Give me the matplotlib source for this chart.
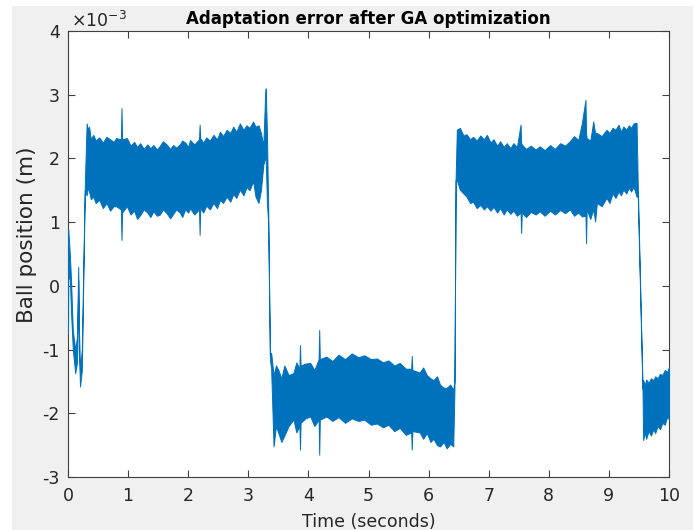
import matplotlib
matplotlib.use("Agg")
import matplotlib.pyplot as plt
from matplotlib.patches import Rectangle
import numpy as np

plt.rcParams['font.family'] = ['DejaVu Sans']
plt.rcParams['axes.unicode_minus'] = False

# Envelope of the (dense, noisy) error signal, in units of 1e-3 m
time_s = [0.00, 0.005, 0.03, 0.05, 0.08, 0.12, 0.15, 0.17, 0.18, 0.20, 0.23, 0.26, 0.28,
          0.31, 0.33, 0.35, 0.38, 0.42, 0.46, 0.52, 0.58, 0.64, 0.70, 0.76, 0.80, 0.88, 0.89, 0.90,
          0.98, 1.04, 1.10, 1.15, 1.20, 1.26, 1.32, 1.37, 1.42, 1.48, 1.53, 1.58, 1.64, 1.70,
          1.75, 1.80, 1.86, 1.90, 1.95, 2.00, 2.03, 2.10, 2.18, 2.19, 2.20, 2.25, 2.30, 2.36,
          2.42, 2.48, 2.53, 2.58, 2.64, 2.70, 2.75, 2.80, 2.86, 2.92, 2.97, 3.02, 3.08, 3.12,
          3.17, 3.21, 3.25, 3.28, 3.29, 3.31, 3.33, 3.36,
          3.38, 3.42, 3.46, 3.50, 3.55, 3.60, 3.67, 3.75, 3.80, 3.85, 3.86, 3.87, 3.95, 4.03,
          4.10, 4.17, 4.18, 4.19, 4.30, 4.40, 4.50, 4.61, 4.72, 4.83, 4.93, 5.04, 5.14, 5.24,
          5.33, 5.43, 5.52, 5.62, 5.71, 5.72, 5.73, 5.85, 5.91, 5.97, 6.03, 6.08, 6.14, 6.19,
          6.25, 6.30, 6.36, 6.41, 6.43, 6.45,
          6.47, 6.52, 6.58, 6.63, 6.69, 6.74, 6.80, 6.86, 6.92, 6.97, 7.03, 7.08, 7.14, 7.19,
          7.25, 7.30, 7.36, 7.41, 7.47, 7.53, 7.54, 7.55, 7.62, 7.70, 7.78, 7.85, 7.93, 8.02,
          8.10, 8.19, 8.27, 8.35, 8.42, 8.49, 8.55, 8.61, 8.62, 8.63, 8.69, 8.74, 8.77, 8.80,
          8.88, 8.96, 9.01, 9.06, 9.11, 9.16, 9.20, 9.24, 9.29, 9.33, 9.37, 9.41, 9.46, 9.48,
          9.56,
          9.57, 9.60, 9.62, 9.66, 9.70, 9.74, 9.77, 9.81, 9.85, 9.89, 9.93, 9.97, 10.00]
lower = [-0.75, 0.10, 0.14, -0.40, -1.00, -1.37, -1.20, 0.10, -1.00, -1.58, -1.33, 0.40, 1.50,
         1.42, 1.55, 1.48, 1.36, 1.40, 1.30, 1.35, 1.22, 1.30, 1.18, 1.25, 1.25, 1.20, 0.72, 1.15,
         1.25, 1.12, 1.18, 1.05, 1.11, 1.20, 1.15, 1.08, 1.17, 1.10, 1.12, 1.20, 1.14, 1.06,
         1.13, 1.20, 1.15, 1.08, 1.20, 1.15, 1.22, 1.12, 1.20, 0.80, 1.22, 1.15, 1.26, 1.20,
         1.30, 1.22, 1.35, 1.30, 1.40, 1.32, 1.44, 1.38, 1.51, 1.42, 1.55, 1.50, 1.64, 1.40,
         1.30, 1.50, 1.90, 2.00, 2.00, 1.30, 0.99, -1.16,
         -1.30, -2.52, -2.20, -2.31, -2.45, -2.35, -2.20, -2.10, -2.30, -2.20, -2.57, -2.15, -2.08, -2.05,
         -2.20, -2.10, -2.65, -2.10, -2.05, -2.12, -2.06, -2.15, -2.08, -2.12, -2.10, -2.18, -2.16, -2.22,
         -2.18, -2.28, -2.23, -2.34, -2.30, -2.57, -2.28, -2.30, -2.40, -2.31, -2.45, -2.40, -2.50, -2.52,
         -2.45, -2.55, -2.48, -2.52, -1.63, 1.66,
         1.66, 1.51, 1.45, 1.40, 1.30, 1.32, 1.22, 1.27, 1.20, 1.25, 1.18, 1.24, 1.15, 1.22,
         1.12, 1.20, 1.13, 1.18, 1.10, 1.15, 0.83, 1.15, 1.08, 1.16, 1.12, 1.17, 1.10, 1.18,
         1.12, 1.19, 1.14, 1.20, 1.10, 1.15, 1.09, 1.10, 0.67, 1.20, 1.05, 1.20, 1.01, 1.30,
         1.25, 1.38, 1.30, 1.45, 1.38, 1.48, 1.42, 1.51, 1.45, 1.54, 1.48, 1.56, 1.40, 1.40,
         -1.69,
         -2.42, -2.30, -2.40, -2.28, -2.35, -2.25, -2.31, -2.20, -2.25, -2.15, -2.18, -2.05, -2.10]
upper = [0.88, 0.88, 0.50, 0.10, -0.70, -1.00, -0.80, 0.30, -0.60, -1.30, -1.00, 0.60, 1.60,
         2.55, 2.45, 2.50, 2.30, 2.37, 2.28, 2.33, 2.25, 2.34, 2.30, 2.26, 2.32, 2.30, 2.79, 2.30,
         2.32, 2.20, 2.26, 2.18, 2.24, 2.15, 2.22, 2.16, 2.21, 2.14, 2.20, 2.27, 2.22, 2.15,
         2.21, 2.17, 2.22, 2.28, 2.25, 2.18, 2.29, 2.22, 2.30, 2.53, 2.32, 2.25, 2.33, 2.28,
         2.37, 2.30, 2.42, 2.35, 2.45, 2.40, 2.50, 2.42, 2.55, 2.45, 2.52, 2.48, 2.58, 2.50,
         2.52, 2.40, 2.20, 3.00, 3.10, 2.40, 1.30, -1.10,
         -1.05, -1.40, -1.25, -1.32, -1.45, -1.25, -1.40, -1.37, -1.20, -1.30, -0.93, -1.25, -1.22, -1.21,
         -1.32, -1.15, -0.69, -1.15, -1.11, -1.18, -1.08, -1.15, -1.06, -1.12, -1.09, -1.15, -1.14, -1.20,
         -1.17, -1.25, -1.21, -1.30, -1.30, -1.10, -1.32, -1.36, -1.28, -1.40, -1.45, -1.48, -1.42, -1.55,
         -1.60, -1.60, -1.55, -1.63, -1.50, 1.70,
         2.45, 2.48, 2.36, 2.38, 2.30, 2.34, 2.28, 2.36, 2.30, 2.37, 2.25, 2.30, 2.20, 2.27,
         2.18, 2.24, 2.16, 2.24, 2.18, 2.53, 2.25, 2.22, 2.15, 2.20, 2.14, 2.19, 2.13, 2.21,
         2.15, 2.24, 2.20, 2.27, 2.35, 2.29, 2.55, 2.92, 2.40, 2.32, 2.28, 2.58, 2.40, 2.40,
         2.35, 2.45, 2.40, 2.48, 2.45, 2.53, 2.42, 2.50, 2.45, 2.52, 2.48, 2.55, 2.56, 1.60,
         -1.60,
         -1.48, -1.55, -1.47, -1.52, -1.45, -1.48, -1.42, -1.45, -1.38, -1.40, -1.32, -1.35, -1.27]

title = "Adaptation error after GA optimization"
xlabel = "Time (seconds)"
ylabel = "Ball position (m)"
xticks = [0, 1, 2, 3, 4, 5, 6, 7, 8, 9, 10]
yticks = [-3, -2, -1, 0, 1, 2, 3, 4]

color = "#0072BD"
text_c = "#262626"
scale = 1e-3

fig = plt.figure(figsize=(6.96, 5.30), dpi=100, facecolor="white")
fig.patches.append(Rectangle((12 / 696, 0), (693 - 12) / 696, (530 - 6) / 530,
                             transform=fig.transFigure, facecolor="#f0f0f0",
                             edgecolor="none", zorder=-10))
ax = fig.add_axes([68 / 696, (530 - 477) / 530, (669 - 68) / 696, (477 - 31) / 530])
ax.set_facecolor("white")

t = np.array(time_s)
lo = np.array(lower) * scale
hi = np.array(upper) * scale
ax.fill_between(t, lo, hi, facecolor=color, edgecolor=color, linewidth=0.7, zorder=3)

ax.set_xlim(0, 10)
ax.set_ylim(-3 * scale, 4 * scale)
ax.set_xticks(xticks)
ax.set_yticks([v * scale for v in yticks])
ax.set_xticklabels([str(v) for v in xticks])
ax.set_yticklabels([str(v) for v in yticks])

ax.tick_params(direction="in", length=5, width=0.8, colors="#404040",
               labelcolor=text_c, labelsize=12.5, top=True, right=True, pad=6)
ax.tick_params(axis="x", pad=7)
for s in ax.spines.values():
    s.set_color("#404040")
    s.set_linewidth(0.8)

ax.set_title(title, fontsize=12, fontweight="bold", color="black", pad=5)
ax.set_xlabel(xlabel, fontsize=12.5, color=text_c)
ax.xaxis.set_label_coords(0.5, -0.08)
ax.set_ylabel(ylabel, fontsize=15.5, color=text_c)
ax.yaxis.set_label_coords(-0.052, 0.543)

ax.text(0.005, 1.0, r"$\times10^{-3}$", transform=ax.transAxes, fontsize=12.5,
        color=text_c, ha="left", va="bottom", math_fontfamily="dejavusans")

fig.savefig("out.png", dpi=100, facecolor=fig.get_facecolor())
